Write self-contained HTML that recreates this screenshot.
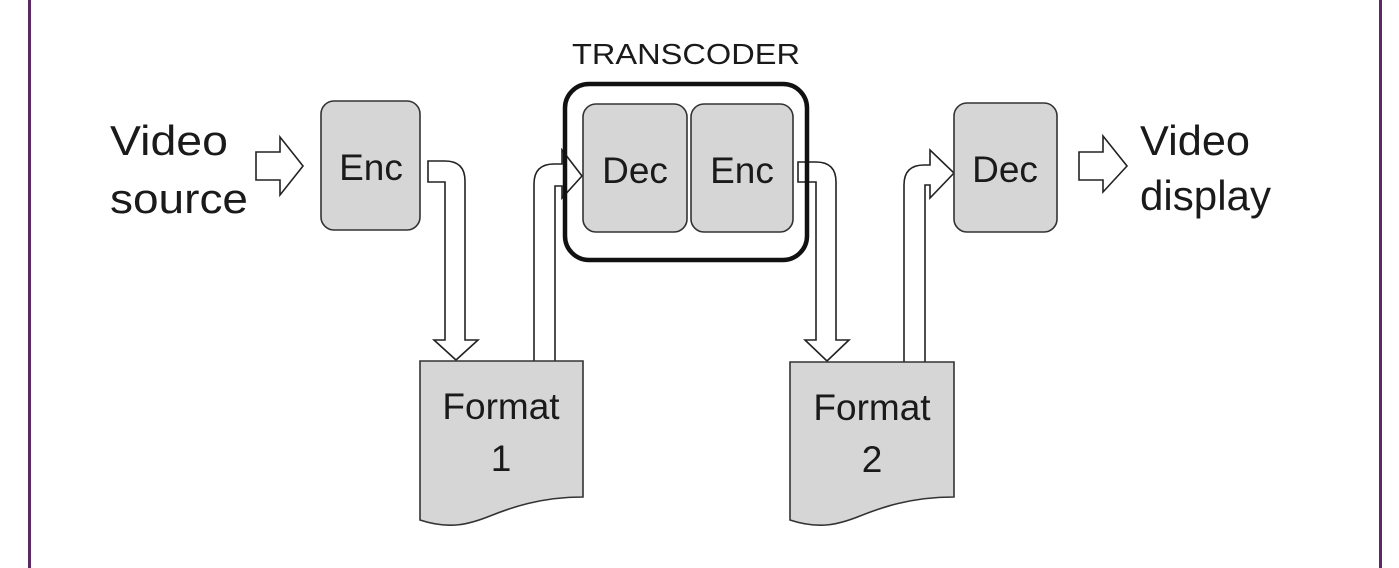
<!DOCTYPE html>
<html><head><meta charset="utf-8"><style>
html,body{margin:0;padding:0;background:#fff;}
svg{display:block;}
text{font-family:"Liberation Sans",sans-serif;fill:#1a1a1a;}
</style></head><body>
<svg width="1399" height="568" viewBox="0 0 1399 568" xmlns="http://www.w3.org/2000/svg">
<rect x="0" y="0" width="1399" height="568" fill="#fff"/>
<rect x="28" y="0" width="3" height="568" fill="#5b2a62"/>
<rect x="1379" y="0" width="3" height="568" fill="#5b2a62"/>

<g stroke="#222" stroke-width="1.6" fill="#fff">
<polygon points="256,152 280,152 280,137 303,166 280,195 280,180 256,180"/>
<polygon points="1079,152 1103,152 1103,136 1127,166 1103,192 1103,180 1079,180"/>
<path d="M428,161 L445,161 Q465,161 465,181 L465,340 L478,340 L456,360 L434,340 L445,340 L445,182 L428,182 Z"/>
<path d="M534,361 L534,184 Q534,164 554,164 L562,164 L562,150 L582,176 L562,198 L562,186 L555,186 L555,361"/>
<path d="M798,162 L816,162 Q836,162 836,182 L836,340 L849,340 L827,361 L805,340 L816,340 L816,182 L798,182 Z"/>
<path d="M904,362 L904,185 Q904,165 924,165 L930,165 L930,150 L954,173 L930,198 L930,185 L925,185 L925,362"/>
</g>

<g stroke="#333" stroke-width="1.6" fill="#d6d6d6">
<rect x="321" y="101" width="99" height="129" rx="13"/>
<rect x="583" y="104" width="104" height="128" rx="13"/>
<rect x="691" y="104" width="102" height="128" rx="13"/>
<rect x="954" y="103" width="103" height="129" rx="13"/>
<path d="M420,361 L583,361 L583,497 C540,497 510,508 490,516 C470,524 450,530 420,520 Z"/>
<path d="M790,362 L954,362 L954,497 C910,497 880,508 860,516 C840,524 820,530 790,520 Z"/>
</g>
<rect x="565" y="84" width="242" height="176" rx="24" fill="none" stroke="#111" stroke-width="4.5"/>

<g font-size="37" text-anchor="middle">
<text x="371" y="180">Enc</text>
<text x="635" y="183">Dec</text>
<text x="742" y="183">Enc</text>
<text x="1005" y="182">Dec</text>
<text x="501" y="419">Format</text>
<text x="501" y="471">1</text>
<text x="872" y="420">Format</text>
<text x="872" y="472">2</text>
</g>
<text x="572" y="64" font-size="29" textLength="228" lengthAdjust="spacingAndGlyphs">TRANSCODER</text>
<g font-size="42">
<text x="110" y="155" textLength="118" lengthAdjust="spacingAndGlyphs">Video</text>
<text x="110" y="213" textLength="138" lengthAdjust="spacingAndGlyphs">source</text>
<text x="1140" y="155" textLength="110" lengthAdjust="spacingAndGlyphs">Video</text>
<text x="1140" y="210" textLength="131" lengthAdjust="spacingAndGlyphs">display</text>
</g>
</svg>
</body></html>
